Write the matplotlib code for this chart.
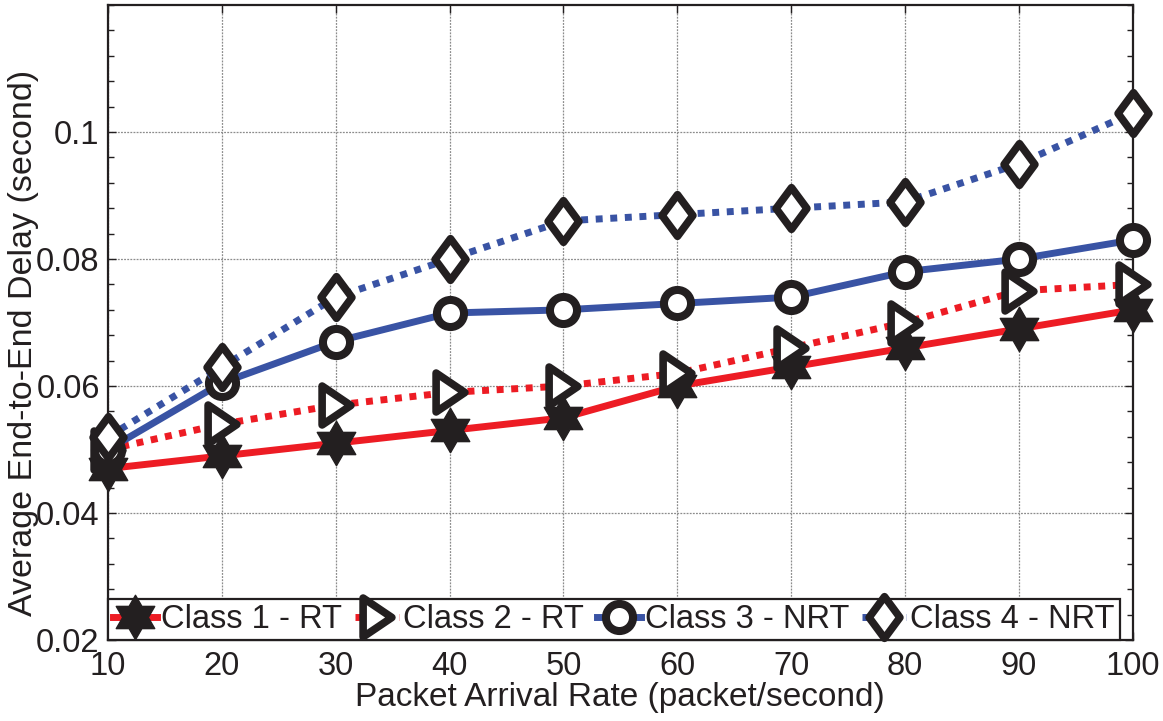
import numpy as np
import matplotlib
matplotlib.use("Agg")
import matplotlib.pyplot as plt
from matplotlib.path import Path
from matplotlib.ticker import MultipleLocator, FixedLocator, FuncFormatter

plt.rcParams['font.family'] = ['Liberation Sans', 'DejaVu Sans']

# data
rate = [10, 20, 30, 40, 50, 60, 70, 80, 90, 100]
class1_rt = [0.047, 0.049, 0.051, 0.053, 0.055, 0.060, 0.063, 0.066, 0.069, 0.072]
class2_rt = [0.050, 0.054, 0.057, 0.059, 0.060, 0.062, 0.066, 0.070, 0.075, 0.076]
class3_nrt = [0.050, 0.0605, 0.067, 0.0715, 0.072, 0.073, 0.074, 0.078, 0.080, 0.083]
class4_nrt = [0.052, 0.063, 0.074, 0.080, 0.086, 0.087, 0.088, 0.089, 0.095, 0.103]
labels = ['Class 1 - RT', 'Class 2 - RT', 'Class 3 - NRT', 'Class 4 - NRT']
yticks = [0.02, 0.04, 0.06, 0.08, 0.1]

red = '#ED1C24'
blue = '#3953A4'
ink = '#231F20'

# MATLAB-like markers
ang = np.pi / 2 + np.arange(12) * np.pi / 6
rad = np.where(np.arange(12) % 2 == 0, 1.0, 1 / np.sqrt(3))
hex_verts = np.column_stack([rad * np.cos(ang), rad * np.sin(ang)])
hexagram = Path(np.vstack([hex_verts, hex_verts[:1]]),
                [Path.MOVETO] + [Path.LINETO] * 11 + [Path.CLOSEPOLY])
tri_right = Path([(-0.37, 0.5), (0.37, 0.0), (-0.37, -0.5), (-0.37, 0.5)],
                 [Path.MOVETO, Path.LINETO, Path.LINETO, Path.CLOSEPOLY])
diamond = Path([(0, 0.5), (0.37, 0), (0, -0.5), (-0.37, 0), (0, 0.5)],
               [Path.MOVETO, Path.LINETO, Path.LINETO, Path.LINETO, Path.CLOSEPOLY])

fig = plt.figure(figsize=(11.63, 7.21), dpi=100)
ax = fig.add_axes([0.0929, 0.1123, 0.881, 0.8807])

lw = 5
dots = (0, (1, 1.1))
ax.plot(rate, class1_rt, color=red, lw=lw, marker=hexagram, ms=32,
        mfc=ink, mec=ink, mew=1, label=labels[0], zorder=3, clip_on=False)
ax.plot(rate, class2_rt, color=red, lw=lw, ls=dots, marker=tri_right, ms=28,
        mfc='white', mec=ink, mew=5.5, label=labels[1], zorder=3, clip_on=False)
ax.plot(rate, class3_nrt, color=blue, lw=lw, marker='o', ms=19.5,
        mfc='white', mec=ink, mew=5.8, label=labels[2], zorder=3, clip_on=False)
ax.plot(rate, class4_nrt, color=blue, lw=lw, ls=dots, marker=diamond, ms=30,
        mfc='white', mec=ink, mew=5.5, label=labels[3], zorder=3, clip_on=False)

ax.set_xlim(10, 100)
ax.set_ylim(0.02, 0.12)
ax.xaxis.set_major_locator(MultipleLocator(10))
ax.yaxis.set_major_locator(FixedLocator(yticks))
ax.yaxis.set_minor_locator(MultipleLocator(0.004))
ax.yaxis.set_major_formatter(FuncFormatter(lambda v, p: ('%.2f' % v).rstrip('0') if v >= 0.1 else '%.2f' % v))

ax.grid(True, which='major', color='#8c8c8c', lw=0.9, ls=(0, (1.5, 1)))
ax.tick_params(which='both', direction='in', top=True, right=True,
               labelsize=23.5, colors=ink)
ax.tick_params(which='major', length=6, width=1)
ax.tick_params(which='minor', length=4, width=1)
ax.tick_params(axis='y', pad=6)
ax.tick_params(axis='x', pad=8)
for s in ax.spines.values():
    s.set_linewidth(1.6)
    s.set_color(ink)

ax.set_xlabel('Packet Arrival Rate (packet/second)', fontsize=24, color=ink, labelpad=0)
ax.set_ylabel('Average End-to-End Delay (second)', fontsize=24.5, color=ink)
ax.yaxis.set_label_coords(-0.067, 0.468)

leg = ax.legend(loc='lower left', bbox_to_anchor=(0, 0), borderaxespad=0, ncol=4,
                fontsize=23.5, handlelength=1.35, handletextpad=0.12, columnspacing=0.4,
                borderpad=0.15, fancybox=False, framealpha=1, edgecolor=ink)
leg.get_frame().set_linewidth(1.6)
for t in leg.get_texts():
    t.set_color(ink)

fig.savefig('out.png', dpi=100)
